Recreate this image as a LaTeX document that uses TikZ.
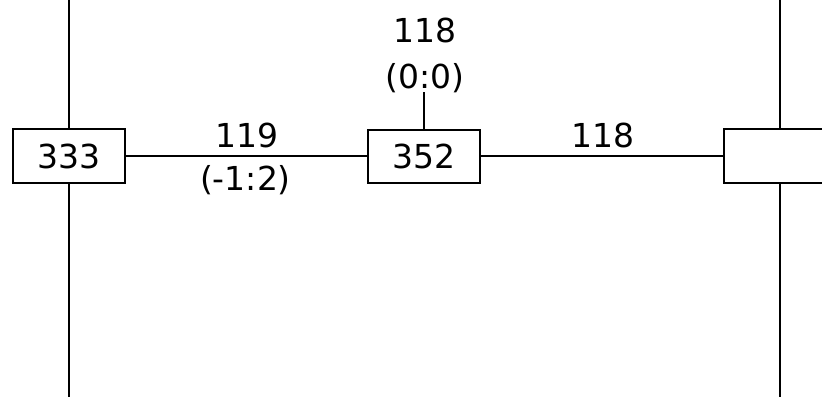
\documentclass[tikz,border=0pt]{standalone}
\usepackage{fontspec}
\setmainfont{DejaVu Sans}
\begin{document}
\begin{tikzpicture}[x=1pt,y=-1pt,
  line width=1.7pt,
  every node/.style={font=\fontsize{33}{40}\selectfont, inner sep=0pt},
  box/.style={draw, minimum width=112pt, minimum height=53pt},
  lbl/.style={anchor=base}]
\useasboundingbox (0,0) rectangle (822,397);
\clip (0,0) rectangle (822,397);
\node[box, minimum height=54pt] (b333) at (69,156) {333};
\node[box] (b352) at (424,156.5) {352};
\node[box, minimum height=54pt] (bR) at (780,156) {};
\coordinate (lt) at (69,0);
\coordinate (lb) at (69,397);
\coordinate (rt) at (780,0);
\coordinate (rb) at (780,397);
\coordinate (up) at (424,92);
\draw (lt) -- (b333.north);
\draw (b333.south) -- (lb);
\draw (rt) -- (bR.north);
\draw (bR.south) -- (rb);
\draw (b333.east) -- (b352.west |- b333.east);
\draw (b352.east |- bR.west) -- (bR.west);
\draw (b352.north) -- (up);
\node[lbl] (l119) at (247,147) {119};
\node[lbl] (l12) at (245.5,190) {(-1:2)};
\node[lbl] (l118a) at (425,42) {118};
\node[lbl] (l00) at (425,88) {(0:0)};
\node[lbl] (l118b) at (603,147) {118};
\end{tikzpicture}
\end{document}
